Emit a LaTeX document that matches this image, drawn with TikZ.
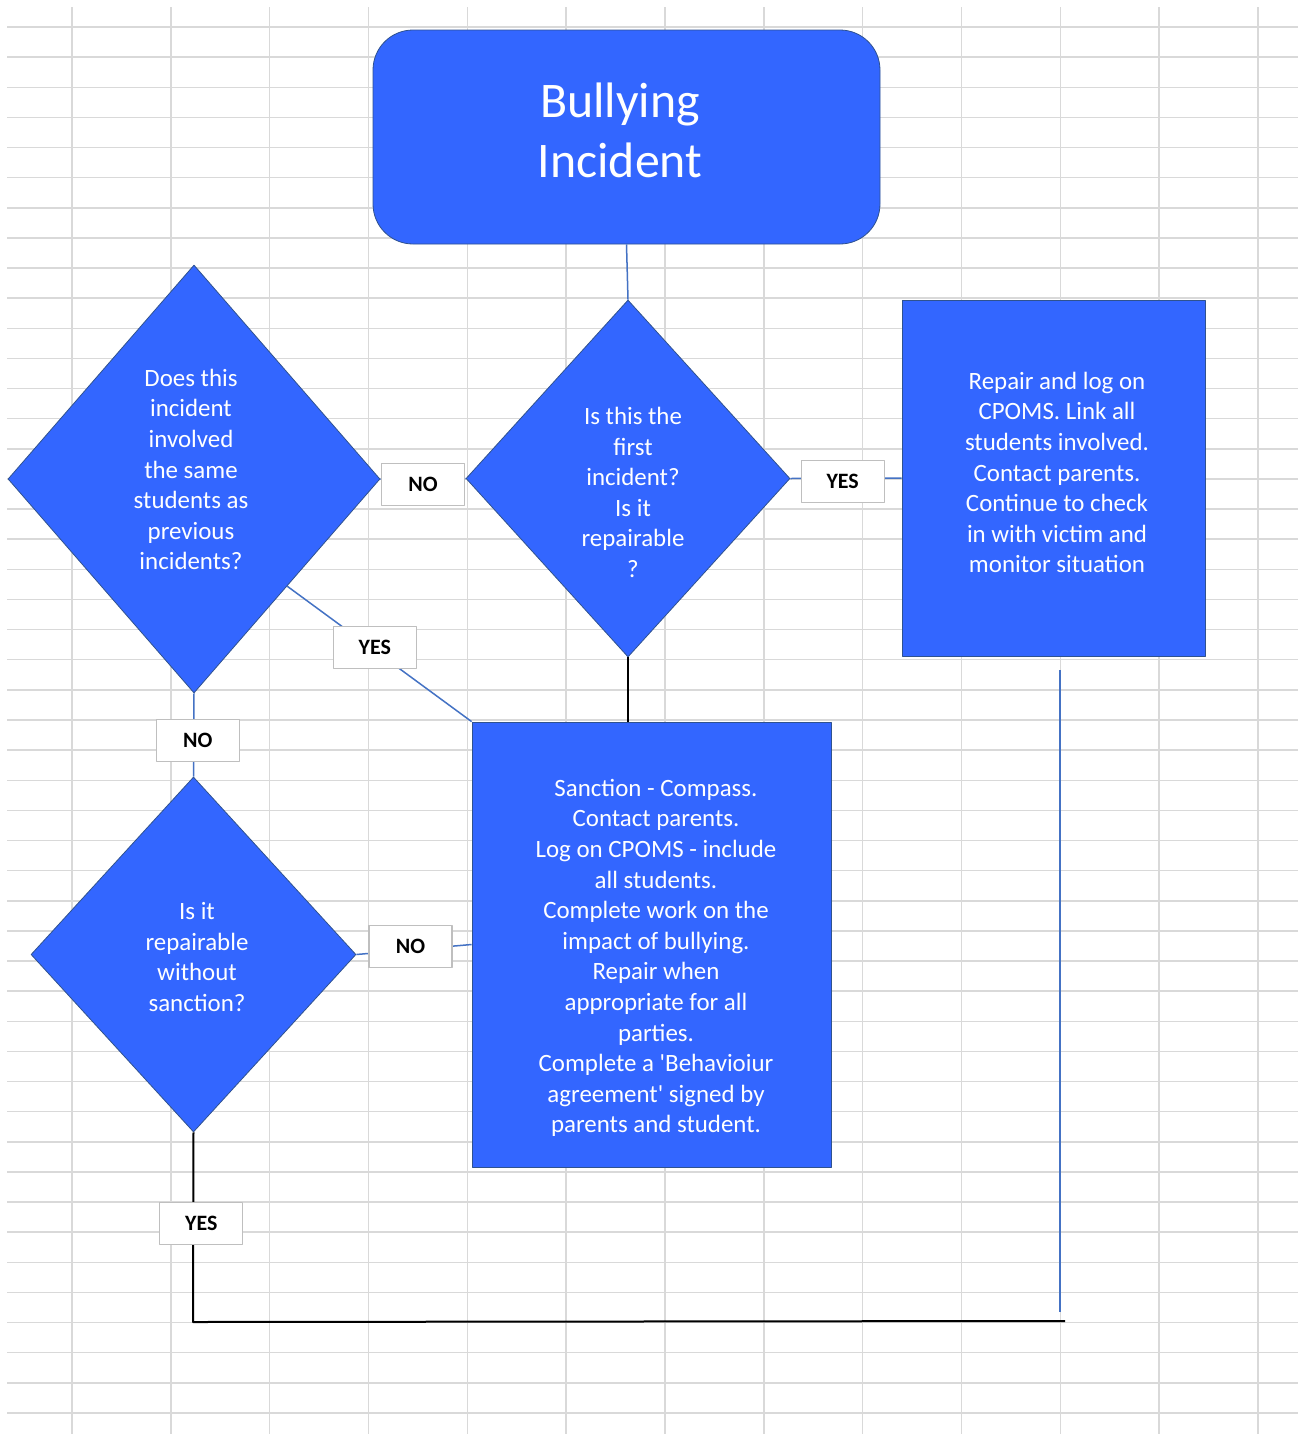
\documentclass[tikz,border=0pt]{standalone}
\usepackage{fontspec}
\setmainfont{Carlito}
\usetikzlibrary{shapes.geometric}
\definecolor{cellgrid}{RGB}{217,217,217}
\definecolor{shapeblue}{RGB}{51,102,255}
\definecolor{edgeblue}{RGB}{47,82,143}
\definecolor{linkblue}{RGB}{68,114,196}
\definecolor{tagedge}{RGB}{191,191,191}
\begin{document}
\begin{tikzpicture}[>=latex,line join=bevel,
  flowbox/.style={draw=edgeblue,line width=0.8bp,fill=shapeblue,inner sep=0pt},
  decision/.style={flowbox,diamond},
  boxtext/.style={text=white,inner sep=0pt,align=center,font=\fontsize{25}{30.7}\selectfont},
  answer/.style={draw=tagedge,line width=1.2bp,fill=white,text=black,minimum width=83bp,minimum height=42bp,inner sep=0pt,font=\fontsize{22}{26}\selectfont\bfseries},
  link/.style={linkblue,line width=1.5bp},
  mainline/.style={black,line width=2bp}]
%%
\useasboundingbox (0bp,0bp) rectangle (1298bp,-1434bp);
\fill [white] (0bp,0bp) rectangle (1298bp,-1434bp);
\foreach \gx in {0,...,12}
  \draw [cellgrid,line width=1.5bp] (72bp+98.83bp*\gx,-7bp) -- (72bp+98.83bp*\gx,-1434bp);
\foreach \gy in {0,...,46}
  \draw [cellgrid,line width=1.5bp] (7bp,-27bp-30.13bp*\gy) -- (1298bp,-27bp-30.13bp*\gy);
%
\node (node_incident) at (626.5bp,-137bp) [flowbox,rounded corners=40bp,minimum width=507bp,minimum height=214bp] {};
  \node (node_same) at (194bp,-479bp) [decision,minimum width=372bp,minimum height=428bp] {};
  \node (node_first) at (628bp,-478.5bp) [decision,minimum width=324bp,minimum height=357bp] {};
  \node (node_repair) at (1053.5bp,-478bp) [flowbox,minimum width=303bp,minimum height=356bp] {};
  \node (node_sanction) at (651.5bp,-944.5bp) [flowbox,minimum width=359bp,minimum height=445bp] {};
  \node (node_norepair) at (193.5bp,-954.5bp) [decision,minimum width=325bp,minimum height=355bp] {};
%
  \node (text_incident) at (620bp,-130.5bp) [boxtext,font=\fontsize{50}{61}\selectfont] {Bullying\\Incident};
  \node (text_same) at (191bp,-469.5bp) [boxtext] {Does this\\incident\\involved\\the same\\students as\\previous\\incidents?};
  \node (text_first) at (633bp,-492.5bp) [boxtext] {Is this the\\first\\incident?\\Is it\\repairable\\?};
  \node (text_repair) at (1057bp,-472.5bp) [boxtext] {Repair and log on\\CPOMS. Link all\\students involved.\\Contact parents.\\Continue to check\\in with victim and\\monitor situation};
  \node (text_sanction) at (656bp,-958bp) [boxtext] {Sanction - Compass.\\Contact parents.\\Log on CPOMS - include\\all students.\\Complete work on the\\impact of bullying.\\Repair when\\appropriate for all\\parties.\\Complete a \textquotesingle Behavioiur\\agreement\textquotesingle\ signed by\\parents and student.};
  \node (text_norepair) at (197bp,-957bp) [boxtext] {Is it\\repairable\\without\\sanction?};
%
  \coordinate (node_corner) at (193bp,-1322bp);
  \coordinate (node_end) at (1065bp,-1321bp);
  \coordinate (node_droptop) at (1060bp,-670bp);
  \coordinate (node_dropend) at (1060bp,-1312bp);
%
  \draw [link] (node_incident.south) -- (node_first.north);
  \draw [link] (node_same.east) -- node [answer,pos=0.5,yshift=-6bp] (tag_no1) {NO} (node_first.west);
  \draw [link] (node_first.east) -- node [answer,pos=0.47,yshift=-3bp] (tag_yes1) {YES} (node_repair.west);
  \draw [link] (node_same.south east) -- node [answer,pos=0.475,yshift=3bp] (tag_yes2) {YES} (node_sanction.north west);
  \draw [mainline,line width=1.5bp] (node_first.south) -- (node_first.south |- node_sanction.north);
  \draw [link] (node_same.south) -- node [answer,pos=0.57,xshift=4bp] (tag_no2) {NO} (node_norepair.north);
  \draw [link] (node_norepair.east) -- node [answer,pos=0.47,yshift=3bp] (tag_no3) {NO} (node_sanction.west);
  \draw [mainline] (node_norepair.south) -- node [answer,pos=0.48,xshift=8bp] (tag_yes3) {YES} (node_corner) -- (node_end);
  \draw [link] (node_droptop) -- (node_dropend);
%
\end{tikzpicture}
\end{document}
